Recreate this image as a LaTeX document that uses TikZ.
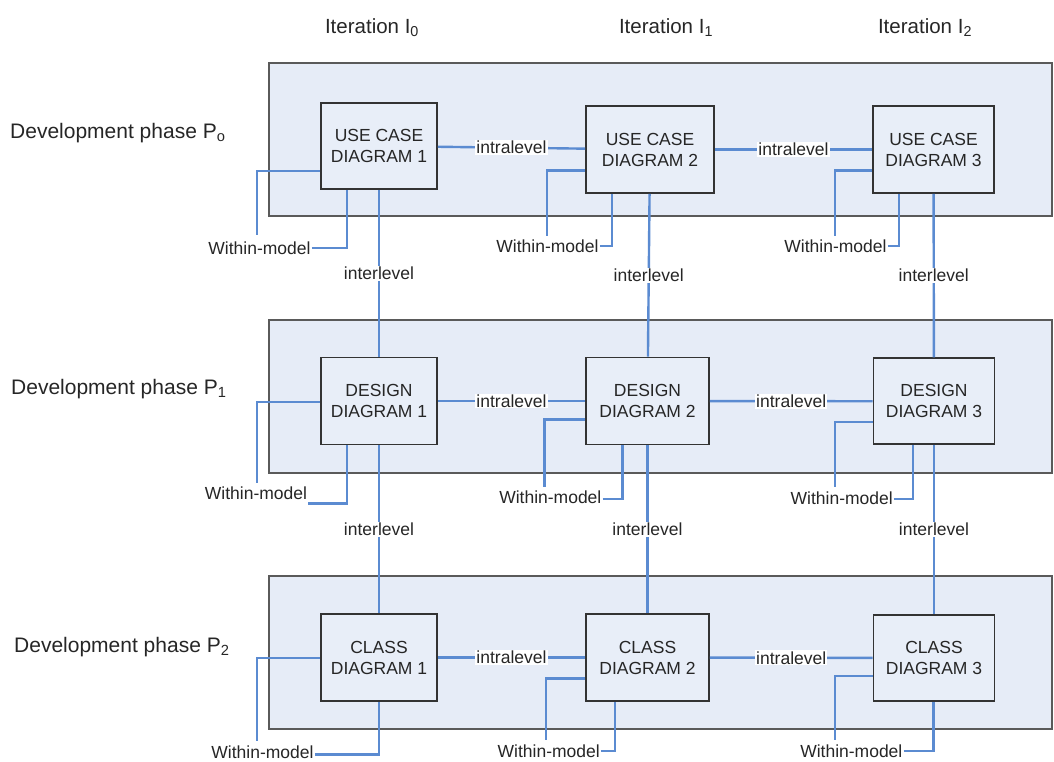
\documentclass[tikz,border=0pt]{standalone}
\usepackage{fontspec}
\setmainfont{Liberation Sans}

\definecolor{panelfill}{HTML}{E6ECF7}
\definecolor{boxfill}{HTML}{E8EEF8}
\definecolor{linkblue}{HTML}{5B8BD1}
\definecolor{ink}{HTML}{262626}
\definecolor{panelline}{HTML}{5A5A5A}
\definecolor{boxline}{HTML}{333333}

\tikzset{
  panel/.style={draw=panelline, line width=2pt, fill=panelfill},
  diagram/.style={draw=boxline, line width=1.8pt, fill=boxfill, align=center,
    text=ink, font=\fontsize{17.5}{21}\selectfont, inner sep=0pt},
  link/.style={draw=linkblue, line width=2.4pt},
  tag/.style={fill=white, text=ink, font=\fontsize{17.5}{21}\selectfont, inner sep=1pt},
  heading/.style={text=ink, font=\fontsize{20.5}{24}\selectfont, inner sep=0pt, anchor=base},
  phase/.style={text=ink, font=\fontsize{21}{25}\selectfont, inner sep=0pt, anchor=base west},
}

\begin{document}
\begin{tikzpicture}[x=1pt, y=-1pt]
\useasboundingbox (0,0) rectangle (1054,762);

% column and row headings
\node[heading] (it0) at (372,33.3) {Iteration I\textsubscript{0}};
\node[heading] (it1) at (666,33.3) {Iteration I\textsubscript{1}};
\node[heading] (it2) at (925,33.3) {Iteration I\textsubscript{2}};
\node[phase] (ph0) at (10,138.5) {Development phase P\textsubscript{o}};
\node[phase] (ph1) at (11,394) {Development phase P\textsubscript{1}};
\node[phase] (ph2) at (14,652) {Development phase P\textsubscript{2}};

% phase bands
\path[panel] (269,63) rectangle (1052,216);
\path[panel] (269,320) rectangle (1052,473);
\path[panel] (269,576) rectangle (1052,729);

% model diagrams
\node[diagram, minimum width=116pt, minimum height=86pt] (uc1) at (379,146) {USE CASE\\DIAGRAM 1};
\node[diagram, minimum width=128pt, minimum height=87pt] (uc2) at (650,149.5) {USE CASE\\DIAGRAM 2};
\node[diagram, minimum width=121pt, minimum height=87pt] (uc3) at (933.5,149.5) {USE CASE\\DIAGRAM 3};
\node[diagram, minimum width=116pt, minimum height=87pt] (dd1) at (379,401) {DESIGN\\DIAGRAM 1};
\node[diagram, minimum width=123pt, minimum height=87pt] (dd2) at (647.5,401) {DESIGN\\DIAGRAM 2};
\node[diagram, minimum width=121pt, minimum height=86pt] (dd3) at (934,401.3) {DESIGN\\DIAGRAM 3};
\node[diagram, minimum width=116pt, minimum height=87pt] (cd1) at (379,657.5) {CLASS\\DIAGRAM 1};
\node[diagram, minimum width=123pt, minimum height=86.5pt] (cd2) at (647.5,657.5) {CLASS\\DIAGRAM 2};
\node[diagram, minimum width=121pt, minimum height=86pt] (cd3) at (934,658) {CLASS\\DIAGRAM 3};

% intralevel links
\draw[link] (uc1) -- node[tag] {intralevel} (uc2);
\draw[link] (uc2) -- node[tag] {intralevel} (uc3);
\draw[link] (dd1) -- node[tag] {intralevel} (dd2);
\draw[link] (dd2) -- node[tag] {intralevel} (dd3);
\draw[link] (cd1) -- node[tag] {intralevel} (cd2);
\draw[link] (cd2) -- node[tag] {intralevel} (cd3);

% interlevel links
\draw[link] (uc1) -- node[tag] {interlevel} (dd1);
\draw[link] (uc2) -- node[tag] {interlevel} (dd2);
\draw[link] (uc3) -- node[tag] {interlevel} (dd3);
\draw[link] (dd1) -- node[tag] {interlevel} (cd1);
\draw[link] (dd2) -- node[tag] {interlevel} (cd2);
\draw[link] (dd3) -- node[tag] {interlevel} (cd3);

% within-model loops
\node[tag] (wm-uc1) at (259.5,248) {Within-model};
\coordinate (wm-uc1-end) at (256.7,235);
\draw[link] ([yshift=-25pt]uc1.west) -| (wm-uc1-end);
\draw[link] (wm-uc1.east) -| ([xshift=-32.3pt]uc1.south);

\node[tag] (wm-uc2) at (547.5,246) {Within-model};
\coordinate (wm-uc2-end) at (547,235.7);
\draw[link] ([yshift=-21.2pt]uc2.west) -| (wm-uc2-end);
\draw[link] (wm-uc2.east) -| ([xshift=-38.3pt]uc2.south);

\node[tag] (wm-uc3) at (835.5,246) {Within-model};
\coordinate (wm-uc3-end) at (835,235.7);
\draw[link] ([yshift=-21.2pt]uc3.west) -| (wm-uc3-end);
\draw[link] (wm-uc3.east) -| ([xshift=-34.5pt]uc3.south);

\node[tag] (wm-dd1) at (256,493.3) {Within-model};
\coordinate (wm-dd1-end) at (256.7,482.7);
\draw[link] ([yshift=-0.7pt]dd1.west) -| (wm-dd1-end);
\draw[link] (wm-dd1.east) ++(0,10) -| ([xshift=-32.3pt]dd1.south);

\node[tag] (wm-dd2) at (550.3,497.7) {Within-model};
\coordinate (wm-dd2-end) at (544.3,486.7);
\draw[link] ([yshift=-18.3pt]dd2.west) -| (wm-dd2-end);
\draw[link] (wm-dd2.east) ++(0,1.3) -| ([xshift=-25.2pt]dd2.south);

\node[tag] (wm-dd3) at (841.7,498.3) {Within-model};
\coordinate (wm-dd3-end) at (835,487.3);
\draw[link] ([yshift=-20.4pt]dd3.west) -| (wm-dd3-end);
\draw[link] (wm-dd3.east) ++(0,0.7) -| ([xshift=-21.3pt]dd3.south);

\node[tag] (wm-cd1) at (262.5,752) {Within-model};
\coordinate (wm-cd1-end) at (256.7,741);
\draw[link] ([yshift=-0.2pt]cd1.west) -| (wm-cd1-end);
\draw[link] (wm-cd1.east) ++(0,2.6) -| (cd1.south);

\node[tag] (wm-cd2) at (548.7,751) {Within-model};
\coordinate (wm-cd2-end) at (546,739.5);
\draw[link] ([yshift=-20.8pt]cd2.west) -| (wm-cd2-end);
\draw[link] (wm-cd2.east) -| ([xshift=-32.5pt]cd2.south);

\node[tag] (wm-cd3) at (851.3,751) {Within-model};
\coordinate (wm-cd3-end) at (835,739.5);
\draw[link] ([yshift=-18pt]cd3.west) -| (wm-cd3-end);
\draw[link] (wm-cd3.east) -| ([xshift=-0.7pt]cd3.south);
\end{tikzpicture}
\end{document}
